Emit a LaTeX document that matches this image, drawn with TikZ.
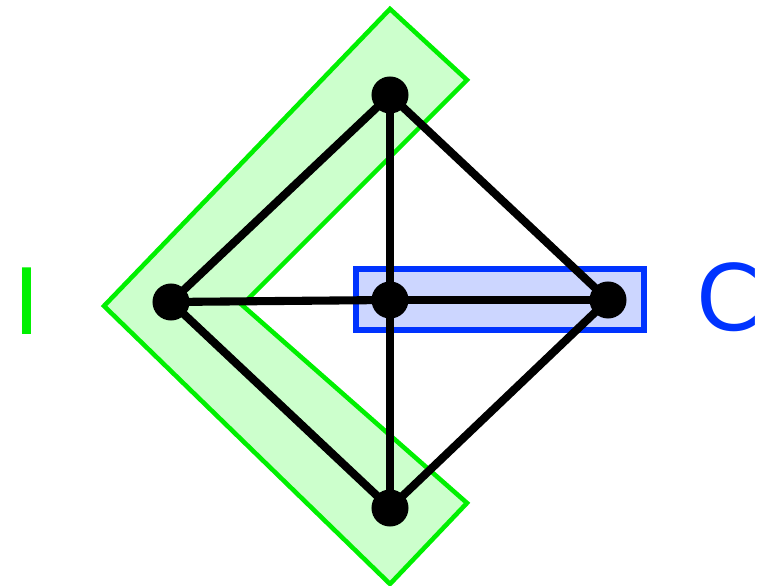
\documentclass[tikz,border=0pt]{standalone}
\usepackage{fontspec}
\setmainfont{DejaVu Sans}
\usetikzlibrary{positioning}
\definecolor{igreen}{RGB}{0,240,0}
\definecolor{igreenfill}{RGB}{204,255,204}
\definecolor{cblue}{RGB}{0,51,255}
\definecolor{cbluefill}{RGB}{204,214,255}

\begin{document}
\begin{tikzpicture}[x=0.01cm, y=-0.01cm,
    vertex/.style={circle, fill=black, inner sep=0pt, minimum size=0.37cm},
    edge/.style={line width=2.3pt},
    group/.style={line width=1.3pt},
    tag/.style={inner sep=0pt, font=\fontsize{26}{31}\selectfont}
]
    \useasboundingbox (0,0) rectangle (764,586);

    % Green chevron (set I)
    \draw[group, draw=igreen, fill=igreenfill] (390,9) -- (467,80) -- (242,305) -- (467,503) -- (390,584) -- (104,306) -- cycle;

    % Blue box (set C)
    \draw[group, line width=1.5pt, draw=cblue, fill=cbluefill] (356,269) rectangle (644,330);

    % Vertices
    \node[vertex] (top) at (390,95) {};
    \node[vertex] (left) at (171,302) {};
    \node[vertex] (mid) at (390,300) {};
    \node[vertex] (right) at (608,300) {};
    \node[vertex] (bottom) at (390,508) {};

    % Edges
    \draw[edge] (top.center) -- (left.center);
    \draw[edge] (top.center) -- (right.center);
    \draw[edge] (top.center) -- (mid.center);
    \draw[edge] (mid.center) -- (bottom.center);
    \draw[edge] (left.center) -- (mid.center);
    \draw[edge] (mid.center) -- (right.center);
    \draw[edge] (left.center) -- (bottom.center);
    \draw[edge] (right.center) -- (bottom.center);

    % Labels
    \node[tag, text=igreen] (iname) at (27,301) {I};
    \node[tag, text=cblue] (cname) at (728,297) {C};
\end{tikzpicture}
\end{document}
